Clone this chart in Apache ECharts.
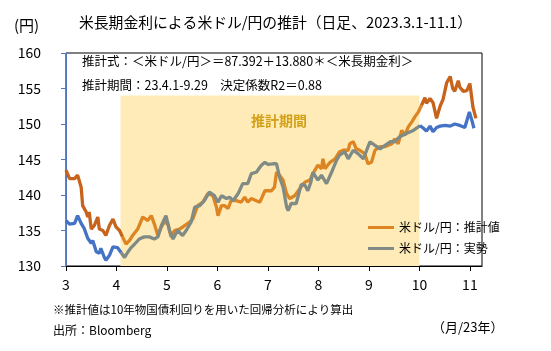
<!DOCTYPE html>
<html>
<head>
<meta charset="utf-8">
<script src="https://cdn.jsdelivr.net/npm/echarts@6/dist/echarts.min.js"></script>
<style>
  html, body { margin: 0; padding: 0; background: #fff; }
  #chart { width: 551px; height: 351px; }
</style>
</head>
<body>
<div id="chart"></div>
<script>
// x positions are in "month" units (3 = 2023/3/1, 11 = 2023/11/1)
const monthTicks = [3, 4, 5, 6, 7, 8, 9, 10, 11];
const yTicks = [130, 135, 140, 145, 150, 155, 160];
const periodStart = 4.08; // 23.4.1
const periodEnd = 10.0;   // 23.9.29

// 米ドル/円：推計値
const estX = [3.00, 3.03, 3.07, 3.17, 3.23, 3.30, 3.33, 3.40, 3.43, 3.46, 3.50, 3.56, 3.63, 3.66, 3.73, 3.79, 3.86, 3.93, 3.99, 4.06,
  4.12, 4.19, 4.26, 4.32, 4.42, 4.52, 4.62, 4.69, 4.75, 4.82, 4.89, 4.95, 5.02, 5.08, 5.15, 5.25, 5.35, 5.45, 5.51, 5.61,
  5.71, 5.81, 5.91, 5.98, 6.01, 6.08, 6.14, 6.21, 6.27, 6.37, 6.47, 6.54, 6.60, 6.67, 6.77, 6.84, 6.94, 7.07, 7.13, 7.17,
  7.23, 7.30, 7.37, 7.43, 7.53, 7.63, 7.73, 7.83, 7.89, 7.99, 8.06, 8.09, 8.13, 8.23, 8.33, 8.42, 8.49, 8.59, 8.62, 8.69,
  8.75, 8.82, 8.92, 8.98, 9.05, 9.12, 9.22, 9.32, 9.38, 9.45, 9.51, 9.58, 9.65, 9.71, 9.78, 9.85, 9.91, 9.98, 10.04, 10.11,
  10.14, 10.21, 10.27, 10.34, 10.41, 10.47, 10.54, 10.61, 10.66, 10.70, 10.77, 10.80, 10.87, 10.94, 11.00, 11.06, 11.12];
const estY = [143.5, 143.7, 142.3, 142.3, 142.8, 141.1, 138.5, 137.6, 136.9, 137.6, 135.2, 135.7, 136.9, 135.2, 135.0, 134.3, 135.7, 136.6, 135.5, 135.0,
  134.1, 133.1, 133.6, 134.3, 135.2, 136.9, 136.4, 137.1, 135.9, 134.3, 135.5, 136.2, 135.9, 134.1, 135.0, 135.2, 135.7, 136.2, 136.6, 138.5,
  139.0, 140.2, 139.9, 138.3, 137.1, 138.5, 138.5, 138.1, 139.2, 139.2, 139.0, 139.7, 139.0, 139.5, 139.2, 139.0, 140.6, 140.6, 141.1, 143.2,
  142.8, 142.1, 140.2, 139.5, 139.9, 140.9, 141.8, 142.1, 143.0, 144.2, 143.7, 145.1, 143.7, 144.6, 145.1, 146.1, 146.3, 146.3, 147.2, 147.5,
  146.5, 146.3, 145.8, 144.4, 144.6, 146.3, 146.8, 146.8, 147.0, 147.2, 147.9, 147.2, 149.1, 148.4, 149.6, 150.3, 151.0, 151.7, 152.6, 153.7,
  152.9, 153.6, 153.0, 150.8, 152.5, 153.5, 155.8, 156.7, 155.0, 154.6, 156.1, 155.2, 154.6, 154.7, 155.7, 152.4, 150.8];

// 米ドル/円：実勢
const actX = [3.00, 3.07, 3.17, 3.23, 3.30, 3.36, 3.43, 3.50, 3.53, 3.60, 3.66, 3.69, 3.76, 3.79, 3.86, 3.93, 4.02, 4.09, 4.16, 4.22,
  4.29, 4.36, 4.45, 4.55, 4.65, 4.75, 4.82, 4.89, 4.98, 5.05, 5.12, 5.21, 5.31, 5.38, 5.48, 5.55, 5.65, 5.74, 5.84, 5.94,
  6.01, 6.08, 6.18, 6.24, 6.31, 6.41, 6.50, 6.60, 6.67, 6.77, 6.87, 6.94, 7.00, 7.10, 7.17, 7.23, 7.30, 7.37, 7.40, 7.46,
  7.56, 7.66, 7.73, 7.79, 7.85, 7.89, 7.99, 8.06, 8.16, 8.26, 8.36, 8.42, 8.52, 8.59, 8.69, 8.79, 8.89, 9.02, 9.12, 9.22,
  9.32, 9.42, 9.51, 9.61, 9.75, 9.88, 9.98, 10.01, 10.08, 10.14, 10.21, 10.27, 10.34, 10.41, 10.51, 10.61, 10.70, 10.80, 10.90, 10.99,
  11.04, 11.08];
const actY = [136.4, 135.9, 136.0, 137.1, 136.0, 135.3, 133.9, 133.2, 133.6, 132.0, 131.8, 132.5, 131.2, 130.8, 131.5, 132.7, 132.6, 131.9, 131.2, 131.9,
  132.6, 133.1, 133.8, 134.1, 134.1, 133.8, 134.1, 135.7, 137.1, 135.0, 133.8, 135.0, 134.3, 135.0, 136.2, 138.3, 138.5, 139.2, 140.4, 139.9,
  139.0, 139.9, 139.5, 139.7, 139.2, 140.2, 141.6, 141.6, 143.0, 143.2, 144.2, 144.6, 144.3, 144.4, 144.4, 142.5, 141.1, 138.3, 137.8, 138.8,
  138.8, 141.5, 141.4, 140.6, 141.8, 143.2, 142.1, 142.8, 141.6, 143.2, 144.9, 145.6, 146.1, 145.1, 146.3, 145.8, 145.1, 147.5, 147.0, 146.5,
  147.0, 147.5, 147.5, 148.2, 148.7, 149.1, 149.6, 149.8, 149.4, 149.0, 149.7, 148.9, 149.5, 149.7, 149.8, 149.7, 150.0, 149.8, 149.5, 151.7,
  150.5, 149.4];

const estName = "米ドル/円：推計値";
const actName = "米ドル/円：実勢";

const orangeIn = "#DD8522";
const orangeOut = "#C8631B";
const grayIn = "#808B85";
const blueOut = "#4472C4";
const font = '"Noto Sans CJK JP", "Noto Sans", sans-serif';

// split a series into before / inside / after the estimation period
function splitPeriod(xs, ys) {
  const pts = xs.map((x, i) => [x, ys[i]]);
  const i1 = pts.findIndex((p) => p[0] >= periodStart);
  let i2 = pts.findIndex((p) => p[0] > periodEnd);
  if (i2 < 0) i2 = pts.length - 1;
  return {
    before: pts.slice(0, i1 + 1),
    inside: pts.slice(i1, i2 + 1),
    after: pts.slice(i2),
  };
}

const est = splitPeriod(estX, estY);
const act = splitPeriod(actX, actY);

function lineSeries(name, data, color, z) {
  return {
    name: name,
    type: "line",
    data: data,
    symbol: "none",
    z: z,
    lineStyle: { color: color, width: 3.3 },
    itemStyle: { color: color },
  };
}

const chart = echarts.init(document.getElementById("chart"));

const option = {
  animation: false,
  textStyle: { fontFamily: font },
  grid: { left: 66, right: 69, top: 53, bottom: 85, show: true, borderColor: "#000", borderWidth: 1 },
  xAxis: {
    type: "value",
    min: 3,
    max: 11.24,
    interval: 1,
    axisLine: { onZero: false, lineStyle: { color: "#000", width: 1 } },
    axisTick: { show: true, length: 5, customValues: monthTicks, lineStyle: { color: "#000" } },
    axisLabel: { customValues: monthTicks, color: "#000", fontSize: 14, margin: 12, fontFamily: font },
    splitLine: { show: false },
  },
  yAxis: {
    type: "value",
    min: 130,
    max: 160,
    interval: 5,
    axisLine: { show: true, lineStyle: { color: "#5277BC", width: 1 } },
    axisTick: { show: true, length: 5, customValues: yTicks },
    axisLabel: { customValues: yTicks, color: "#000", fontSize: 14, margin: 25, fontFamily: font },
    splitLine: { show: false },
  },
  legend: {
    data: [estName, actName],
    orient: "vertical",
    left: 363,
    top: 215,
    icon: "rect",
    itemWidth: 26,
    itemHeight: 3,
    itemGap: 6,
    textStyle: { fontSize: 12, color: "#000", fontFamily: font, lineHeight: 15 },
  },
  graphic: [
    { type: "text", left: 14, top: 18, style: { text: "(円)", fontSize: 15, fill: "#000", fontFamily: font } },
    { type: "text", left: 79, top: 15, style: { text: "米長期金利による米ドル/円の推計（日足、2023.3.1-11.1）", fontSize: 14.8, fill: "#000", fontFamily: font } },
    { type: "text", left: 82, top: 55, style: { text: "推計式：＜米ドル/円＞＝87.392＋13.880＊＜米長期金利＞", fontSize: 12.5, fill: "#000", fontFamily: font } },
    { type: "text", left: 82, top: 79, style: { text: "推計期間：23.4.1-9.29　決定係数R2＝0.88", fontSize: 12.5, fill: "#000", fontFamily: font } },
    { type: "text", left: 53, top: 304, style: { text: "※推計値は10年物国債利回りを用いた回帰分析により算出", fontSize: 11.5, fill: "#000", fontFamily: font } },
    { type: "text", left: 53, top: 324, style: { text: "出所：Bloomberg", fontSize: 12, fill: "#000", fontFamily: font } },
    { type: "text", left: 432, top: 321, style: { text: "（月/23年）", fontSize: 13, fill: "#000", fontFamily: font } },
  ],
  series: [
    {
      name: "period",
      type: "line",
      data: [],
      z: 1,
      markArea: {
        silent: true,
        itemStyle: { color: "#FFEBB7" },
        label: {
          show: true,
          position: "insideTop",
          distance: 18,
          offset: [9, 0],
          color: "#D4A017",
          fontSize: 14,
          fontWeight: "bold",
          fontFamily: font,
        },
        data: [[{ name: "推計期間", xAxis: periodStart, yAxis: 130 }, { xAxis: periodEnd, yAxis: 154 }]],
      },
    },
    lineSeries("est-before", est.before, orangeOut, 2),
    lineSeries(estName, est.inside, orangeIn, 2),
    lineSeries("est-after", est.after, orangeOut, 2),
    lineSeries("act-before", act.before, blueOut, 3),
    lineSeries(actName, act.inside, grayIn, 3),
    lineSeries("act-after", act.after, blueOut, 3),
  ],
};

chart.setOption(option);
</script>
</body>
</html>
